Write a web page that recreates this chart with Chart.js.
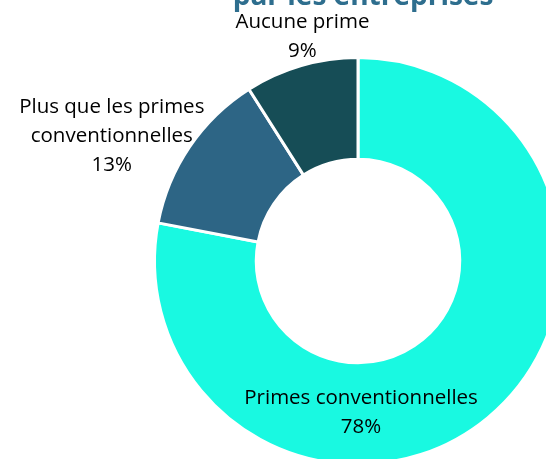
<!DOCTYPE html>
<html lang="fr">
<head>
<meta charset="UTF-8" />
<title>Primes versées par les entreprises</title>
<script src="https://cdn.jsdelivr.net/npm/chart.js"></script>
<style>
  html, body { margin: 0; padding: 0; background: #fff; overflow: hidden; }
  #wrap { position: absolute; left: 0; top: 0; width: 600px; height: 520px; }
</style>
</head>
<body>
<div id="wrap"><canvas id="primesChart"></canvas></div>
<script>
const categories = ["Primes conventionnelles", "Plus que les primes conventionnelles", "Aucune prime"];
const labelLines = [["Primes conventionnelles"], ["Plus que les primes", "conventionnelles"], ["Aucune prime"]];
const shares = [78, 13, 9];
const sliceColors = ["#19F9E1", "#2D6585", "#164D56"];
const titleText = "par les entreprises";

// label block centres, in outer-radius units from the hole centre
const labelAnchors = [[0.015, 0.745], [-1.21, -0.615], [-0.273, -1.10]];

const sliceLabels = {
  id: "sliceLabels",
  afterDatasetsDraw(chart) {
    const ctx = chart.ctx;
    const meta = chart.getDatasetMeta(0);
    ctx.save();
    ctx.textAlign = "center";
    ctx.textBaseline = "middle";
    ctx.fillStyle = "#000";
    ctx.font = "20.5px 'Open Sans'";
    const lh = 29;
    meta.data.forEach((arc, i) => {
      const { x, y, outerRadius } = arc.getProps(["x", "y", "outerRadius"], true);
      const lines = labelLines[i].concat([shares[i] + "%"]);
      const cx = x + labelAnchors[i][0] * outerRadius;
      const cy = y + labelAnchors[i][1] * outerRadius;
      const top = cy - (lines.length - 1) * lh / 2;
      lines.forEach((t, k) => ctx.fillText(t, cx, top + k * lh));
    });

    // heading, mostly above the visible area
    ctx.fillStyle = "#2E6E8E";
    ctx.font = "bold 28px 'Open Sans'";
    ctx.textBaseline = "alphabetic";
    ctx.fillText(titleText, 363, 5);
    ctx.restore();
  }
};

new Chart(document.getElementById("primesChart"), {
  type: "doughnut",
  data: {
    labels: categories,
    datasets: [{
      data: shares,
      backgroundColor: sliceColors,
      borderColor: "#fff",
      borderWidth: 3
    }]
  },
  options: {
    responsive: true,
    maintainAspectRatio: false,
    animation: false,
    cutout: "50%",
    layout: { padding: { left: 153, top: 56, right: 37, bottom: 54 } },
    plugins: {
      legend: { display: false },
      tooltip: { enabled: false }
    }
  },
  plugins: [sliceLabels]
});
</script>
</body>
</html>
